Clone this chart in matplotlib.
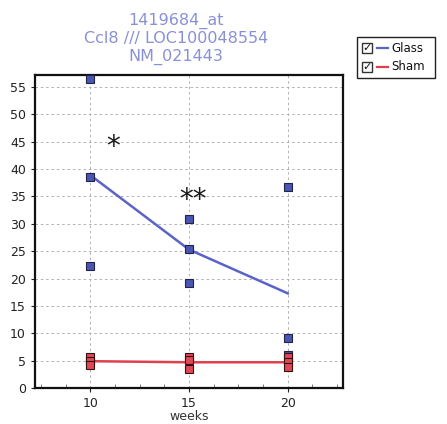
import matplotlib
matplotlib.use("Agg")
import matplotlib.pyplot as plt
from matplotlib.patches import Rectangle
from matplotlib.lines import Line2D
import numpy as np

weeks = [10, 15, 20]
glass_points = [[56.5, 38.5, 22.3], [30.8, 25.4, 19.2], [36.7, 9.1, 6.1]]
sham_points = [[5.6, 4.9, 4.2], [5.6, 5.1, 3.4], [5.6, 4.7, 3.9]]
glass_line = [38.9, 25.3, 17.3]
sham_line = [4.9, 4.7, 4.7]
yticks = [0, 5, 10, 15, 20, 25, 30, 35, 40, 45, 50, 55]
xticks = [10, 15, 20]
title_lines = ["1419684_at", "Ccl8 /// LOC100048554", "NM_021443"]
legend_labels = ["Glass", "Sham"]
stars = [(11.15, 44.0, "*"), (15.2, 34.3, "**")]

glass_color = "#5a63c8"
glass_fill = "#4a56b4"
sham_color = "#e0404e"
sham_fill = "#e04858"

fig = plt.figure(figsize=(4.47, 4.24), dpi=100)
ax = fig.add_axes([35/447, 1-388/424, (343-35)/447, (388-75)/424])

ax.set_xlim(7.2, 22.8)
ax.set_ylim(0, 57.2)

ax.plot(weeks, glass_line, color=glass_color, lw=1.8, zorder=3)
ax.plot(weeks, sham_line, color=sham_color, lw=1.8, zorder=3)

for w, vals in zip(weeks, glass_points):
    ax.plot([w]*len(vals), vals, ls="none", marker="s", ms=5.8, mfc=glass_fill,
            mec="#222244", mew=0.8, zorder=4, clip_on=False)
for w, vals in zip(weeks, sham_points):
    ax.plot([w]*len(vals), vals, ls="none", marker="s", ms=5.8, mfc=sham_fill,
            mec="#331111", mew=0.8, zorder=5, clip_on=False)

for x, y, s in stars:
    ax.text(x, y, s, fontsize=20, ha="center", va="center", color="#1a1a1a",
            fontweight="normal")

ax.set_xticks(xticks)
ax.set_yticks(yticks)
ax.set_xticks(np.arange(7.5, 23, 1.25), minor=True)
ax.tick_params(axis="x", which="minor", direction="in", length=3, color="#666666")
ax.tick_params(axis="both", which="major", labelsize=9, length=3, colors="#222222")
ax.grid(True, which="major", ls=(0, (2.5, 3)), color="#b0b0b0", lw=0.7)
for side in ["left", "bottom", "right", "top"]:
    ax.spines[side].set_color("#111111")
    ax.spines[side].set_linewidth(1.6)
ax.set_xlabel("weeks", fontsize=9, labelpad=0, color="#333333")

title_color = "#8a90d6"
for i, t in enumerate(title_lines):
    fig.text(176/447, 1-(21+18*i)/424, t, ha="center", va="center",
             fontsize=11.5, color=title_color)

# legend box
lx0, ly0, lw_, lh_ = 357, 37, 78, 41
fig.patches.append(Rectangle((lx0/447, 1-(ly0+lh_)/424), lw_/447, lh_/424,
                             transform=fig.transFigure, fill=False,
                             ec="#222222", lw=1.0))
for i, (lab, c) in enumerate(zip(legend_labels, [glass_color, sham_color])):
    yc = ly0 + 11 + 19*i
    fig.patches.append(Rectangle((362/447, 1-(yc+5)/424), 10/447, 10/424,
                                 transform=fig.transFigure, fill=False,
                                 ec="#333333", lw=1.0))
    fig.text(367/447, 1-yc/424, "✓", ha="center", va="center", fontsize=8,
             color="#111111", fontweight="bold")
    fig.lines.append(Line2D([377/447, 388/447], [1-yc/424, 1-yc/424],
                            transform=fig.transFigure, color=c, lw=1.6))
    fig.text(391/447, 1-yc/424, lab, ha="left", va="center", fontsize=8.5,
             color="#111111")

fig.savefig("out.png", dpi=100)
